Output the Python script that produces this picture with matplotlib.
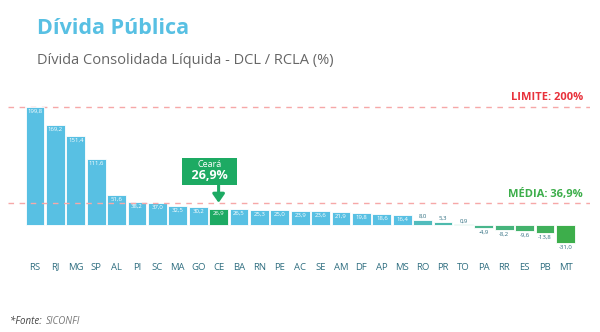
import matplotlib.pyplot as plt
import numpy as np
from matplotlib.offsetbox import TextArea, VPacker, AnnotationBbox

# Dados (DCL / RCLA em %)
estados = ["RS", "RJ", "MG", "SP", "AL", "PI", "SC", "MA", "GO", "CE", "BA", "RN", "PE", "AC",
           "SE", "AM", "DF", "AP", "MS", "RO", "PR", "TO", "PA", "RR", "ES", "PB", "MT"]
valores = [199.8, 169.2, 151.4, 111.6, 51.6, 38.2, 37.0, 32.5, 30.2, 26.9, 26.5, 25.3, 25.0, 23.9,
           23.6, 21.9, 19.8, 18.6, 16.4, 8.0, 5.3, 0.9, -4.9, -8.2, -9.6, -13.8, -31.0]
limite = 200
media = 36.9
destaque = "CE"

BLUE = "#58C0E3"
GREEN = "#1DAA63"
RED = "#E8323C"
MEDIA_GREEN = "#3DAE4B"
TICK = "#2F6E80"

plt.rcParams["font.family"] = ["Open Sans", "DejaVu Sans"]

fig = plt.figure(figsize=(6, 3.32), dpi=100)
ax = fig.add_axes([8 / 600, 1 - 250 / 332, 582 / 600, 160 / 332])

x = np.arange(len(estados))
vals = np.array(valores)

# cores: azul para positivos, degradê para verde nos últimos
tail_start = estados.index("RO")
c0 = np.array([0x58, 0xC0, 0xE3]) / 255
c1 = np.array([0x3D, 0xAE, 0x4B]) / 255
colors = []
for i, e in enumerate(estados):
    if e == destaque:
        colors.append(GREEN)
    elif i < tail_start:
        colors.append(BLUE)
    else:
        t = (i - tail_start) / (len(estados) - 1 - tail_start)
        t = 0.25 + 0.75 * t
        colors.append(tuple(c0 * (1 - t) + c1 * t))

ax.bar(x, vals, width=0.92, color=colors, edgecolor="white", linewidth=0.6, zorder=2)

# linhas de referência
ax.axhline(limite, color="#F6A8A8", lw=1.0, ls=(0, (4, 4)), zorder=1)
ax.axhline(media, color="#F6A8A8", lw=1.0, ls=(0, (4, 4)), zorder=3)
ax.text(26.85, limite + 6, "LIMITE: 200%", color=RED, fontsize=8, fontweight="bold",
        ha="right", va="bottom")
ax.text(26.85, media + 5, "MÉDIA: 36,9%", color=MEDIA_GREEN, fontsize=8, fontweight="bold",
        ha="right", va="bottom")

# rótulos dos valores
for xi, v in zip(x, vals):
    s = f"{v:.1f}".replace(".", ",")
    if v >= 14:
        ax.text(xi, v - 3, s, color="white", fontsize=4.3, ha="center", va="top", zorder=4)
    elif v >= 0:
        ax.text(xi, v + 2, s, color=TICK, fontsize=4.3, ha="center", va="bottom", zorder=4)
    else:
        ax.text(xi, v - 3, s, color=TICK, fontsize=4.3, ha="center", va="top", zorder=4)

# destaque Ceará
ic = estados.index(destaque)
vc = valores[ic]
ax.annotate("", xy=(ic, vc + 6), xytext=(ic, 72),
            arrowprops=dict(arrowstyle="-|>,head_width=0.35,head_length=0.5",
                            color=GREEN, lw=2.2), zorder=5)
t1 = TextArea("Ceará", textprops=dict(color="white", fontsize=6.5))
t2 = TextArea("  " + f"{vc:.1f}%".replace(".", ",") + "  ",
              textprops=dict(color="white", fontsize=9, fontweight="bold"))
box = VPacker(children=[t1, t2], align="center", pad=0, sep=0)
ab = AnnotationBbox(box, (ic - 0.45, 91), xycoords="data", frameon=True, pad=0.0,
                    bboxprops=dict(boxstyle="square,pad=0.2", fc=GREEN, ec="none"), zorder=6)
ax.add_artist(ab)

ax.set_xlim(-1.32, 27.2)
ax.set_ylim(-42.4, 228.8)
ax.set_xticks(x)
ax.set_xticklabels(estados, color=TICK, fontsize=6.8)
ax.tick_params(axis="x", length=0, pad=9)
ax.set_yticks([])
for s in ax.spines.values():
    s.set_visible(False)

# títulos
fig.text(37 / 600, 1 - 28 / 332, "Dívida Pública", color="#58C0E3", fontsize=15.5,
         fontweight="bold", va="center", ha="left")
fig.text(37 / 600, 1 - 60 / 332, "Dívida Consolidada Líquida - DCL / RCLA (%)", color="#666666",
         fontsize=10.5, va="center", ha="left")
fig.text(10 / 600, 1 - 322 / 332, "*Fonte: ", color="#444444", fontsize=7, style="italic",
         va="center", ha="left")
fig.text(46 / 600, 1 - 322 / 332, "SICONFI", color="#777777", fontsize=7, style="italic",
         va="center", ha="left")

fig.savefig("out.png", dpi=100)
